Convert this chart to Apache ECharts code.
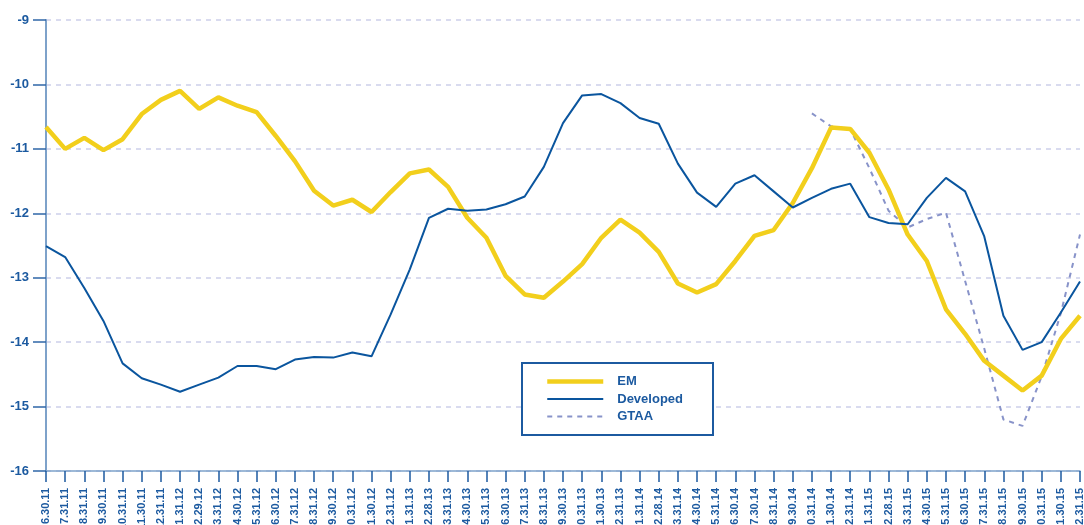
<!DOCTYPE html>
<html>
<head>
<meta charset="utf-8">
<script src="https://cdn.jsdelivr.net/npm/echarts@6/dist/echarts.min.js"></script>
<style>
html,body{margin:0;padding:0;background:#fff;}
#chart{width:1084px;height:525px;}
</style>
</head>
<body>
<div id="chart"></div>
<script>
const categories = ["6.30.11","7.31.11","8.31.11","9.30.11","10.31.11","11.30.11","12.31.11","1.31.12","2.29.12","3.31.12","4.30.12","5.31.12","6.30.12","7.31.12","8.31.12","9.30.12","10.31.12","11.30.12","12.31.12","1.31.13","2.28.13","3.31.13","4.30.13","5.31.13","6.30.13","7.31.13","8.31.13","9.30.13","10.31.13","11.30.13","12.31.13","1.31.14","2.28.14","3.31.14","4.30.14","5.31.14","6.30.14","7.30.14","8.31.14","9.30.14","10.31.14","11.30.14","12.31.14","1.31.15","2.28.15","3.31.15","4.30.15","5.31.15","6.30.15","7.31.15","8.31.15","9.30.15","10.31.15","11.30.15","12.31.15"];

const emValues = [-10.66,-11.0,-10.83,-11.02,-10.85,-10.46,-10.24,-10.10,-10.38,-10.20,-10.33,-10.43,-10.80,-11.19,-11.65,-11.88,-11.79,-11.98,-11.67,-11.38,-11.32,-11.59,-12.07,-12.38,-12.97,-13.26,-13.31,-13.06,-12.79,-12.38,-12.10,-12.30,-12.60,-13.09,-13.23,-13.10,-12.74,-12.35,-12.26,-11.84,-11.30,-10.67,-10.69,-11.06,-11.63,-12.33,-12.74,-13.49,-13.87,-14.29,-14.52,-14.75,-14.52,-13.95,-13.59];

const developedValues = [-12.51,-12.68,-13.16,-13.67,-14.33,-14.56,-14.66,-14.77,-14.66,-14.55,-14.37,-14.37,-14.42,-14.27,-14.23,-14.24,-14.16,-14.22,-13.57,-12.87,-12.07,-11.93,-11.96,-11.94,-11.86,-11.74,-11.28,-10.60,-10.17,-10.15,-10.29,-10.52,-10.61,-11.23,-11.68,-11.90,-11.54,-11.41,-11.66,-11.91,-11.76,-11.62,-11.54,-12.06,-12.15,-12.17,-11.76,-11.45,-11.66,-12.36,-13.59,-14.12,-14.00,-13.54,-13.06];

const gtaaValues = [null,null,null,null,null,null,null,null,null,null,null,null,null,null,null,null,null,null,null,null,null,null,null,null,null,null,null,null,null,null,null,null,null,null,null,null,null,null,null,null,-10.45,-10.65,-10.69,-11.30,-11.96,-12.22,-12.09,-11.99,-13.05,-14.10,-15.20,-15.30,-14.53,-13.55,-12.33];

const seriesNames = ["EM","Developed","GTAA"];
const yTicks = {min:-16, max:-9, interval:1};

const labelBlue = '#1c5aa0';
const chart = echarts.init(document.getElementById('chart'), null, {renderer:'canvas'});
chart.setOption({
  animation:false,
  backgroundColor:'#ffffff',
  grid:{left:46, right:4, top:20, bottom:54, containLabel:false, outerBoundsMode:'none'},
  xAxis:{
    type:'category',
    data:categories,
    boundaryGap:false,
    axisLine:{show:true, lineStyle:{color:'#7ea2ca', width:1.5}},
    axisTick:{show:true, interval:0, length:11, lineStyle:{color:'#1c5aa0', width:1.5}},
    axisLabel:{interval:0, rotate:90, margin:17, color:labelBlue, fontWeight:'bold', fontSize:11,
      fontFamily:'"Liberation Sans",Arial,sans-serif'},
    splitLine:{show:false}
  },
  yAxis:{
    type:'value',
    min:yTicks.min, max:yTicks.max, interval:yTicks.interval,
    axisLine:{show:true, lineStyle:{color:'#7ea2ca', width:2}},
    axisTick:{show:true, inside:false, length:13, lineStyle:{color:'#2f67a8', width:1.5}},
    axisLabel:{margin:17, color:labelBlue, fontWeight:'bold', fontSize:13,
      fontFamily:'"Liberation Sans",Arial,sans-serif'},
    splitLine:{show:true, lineStyle:{color:'#cdd0ea', width:1.5, type:[5,5]}}
  },
  legend:{
    orient:'vertical',
    left:545, top:375, padding:0,
    itemWidth:56, itemHeight:12, itemGap:4.5,
    data:[
      {name:seriesNames[0], lineStyle:{width:4.5}},
      {name:seriesNames[1], lineStyle:{width:2}},
      {name:seriesNames[2], lineStyle:{width:2}}
    ],
    itemStyle:{opacity:0},
    textStyle:{color:labelBlue, fontWeight:'bold', fontSize:13, padding:[0,0,0,9],
      fontFamily:'"Liberation Sans",Arial,sans-serif'}
  },
  graphic:[{
    type:'rect', left:521, top:362, z:3,
    shape:{width:191, height:72},
    style:{fill:'#ffffff', stroke:'#1c5aa0', lineWidth:2}
  }],
  series:[
    {name:seriesNames[0], type:'line', data:emValues, symbol:'none', z:4,
      lineStyle:{color:'#f2cf1c', width:4.5}, itemStyle:{color:'#f2cf1c'}},
    {name:seriesNames[1], type:'line', data:developedValues, symbol:'none', z:5,
      lineStyle:{color:'#0a559e', width:2}, itemStyle:{color:'#0a559e'}},
    {name:seriesNames[2], type:'line', data:gtaaValues, symbol:'none', z:3, connectNulls:false,
      lineStyle:{color:'#8893c9', width:2, type:[5,5]}, itemStyle:{color:'#8893c9'}}
  ]
});
</script>
</body>
</html>
